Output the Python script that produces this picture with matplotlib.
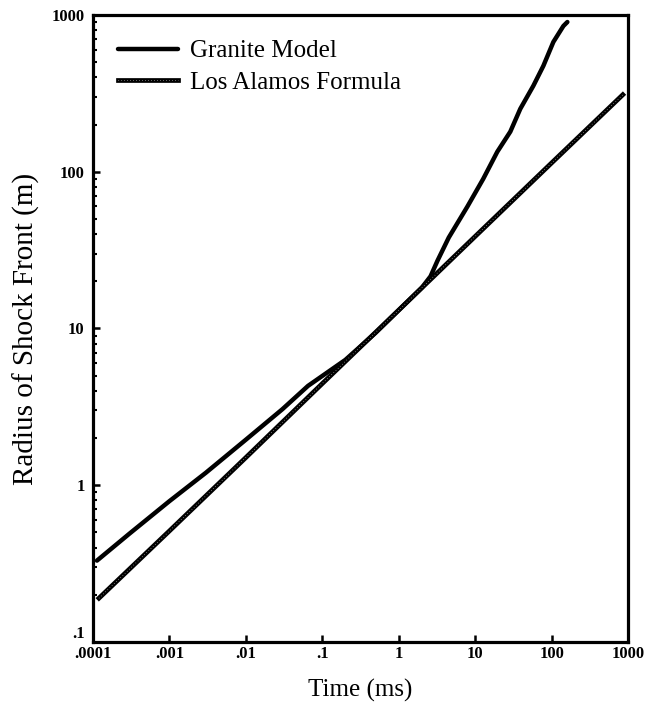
import matplotlib.pyplot as plt
import matplotlib.transforms as mtransforms
from matplotlib.ticker import FixedLocator, LogLocator, NullFormatter

# Granite model
granite_t = [1.13e-4, 3e-4, 1e-3, 3e-3, 1e-2, 3e-2, 0.065, 0.2, 0.5, 1.0, 2.0,
             2.6, 3.2, 4.5, 7.9, 12.7, 19.4, 28.7, 38.8, 57.4, 77.6, 105, 142, 160]
granite_r = [0.33, 0.49, 0.79, 1.2, 1.95, 3.05, 4.3, 6.3, 9.4, 13.1, 18.2,
             21.5, 27, 38, 60, 90, 134, 180, 252, 353, 473, 673, 851, 902]

# Los Alamos formula
alamos_t = [1.2e-4, 1e-3, 1e-2, 0.1, 1.0, 10, 100, 850]
alamos_r = [0.19, 0.51, 1.5, 4.45, 13.1, 38.7, 114, 310]

x_ticks = [1e-4, 1e-3, 1e-2, 1e-1, 1, 10, 100, 1000]
x_labels = ['.0001', '.001', '.01', '.1', '1', '10', '100', '1000']
y_ticks = [0.1, 1, 10, 100, 1000]
y_labels = ['.1', '1', '10', '100', '1000']

plt.rcParams['font.family'] = ['Liberation Serif', 'DejaVu Serif']

fig = plt.figure(figsize=(6.45, 7.14), dpi=100)
ax = fig.add_axes([0.144, 0.101, 0.830, 0.878])

g_line, = ax.plot(granite_t, granite_r, color='black', lw=3.2, solid_capstyle='round')
a_base, = ax.plot(alamos_t, alamos_r, color='black', lw=3.4)
a_dots, = ax.plot(alamos_t, alamos_r, color='white', lw=0.5, ls=(0, (0.8, 3.5)))

ax.set_xscale('log')
ax.set_yscale('log')
ax.set_xlim(1e-4, 1000)
ax.set_ylim(0.1, 1000)

ax.xaxis.set_major_locator(FixedLocator(x_ticks))
ax.set_xticklabels(x_labels)
ax.yaxis.set_major_locator(FixedLocator(y_ticks))
ax.set_yticklabels(y_labels)
ax.xaxis.set_minor_formatter(NullFormatter())
ax.yaxis.set_minor_locator(LogLocator(base=10, subs=range(2, 10)))
ax.yaxis.set_minor_formatter(NullFormatter())
ax.xaxis.set_minor_locator(LogLocator(base=10, subs=[]))

ax.tick_params(which='major', direction='in', length=5, width=1.8, labelsize=12)
ax.tick_params(axis='x', which='major', pad=3)
ax.tick_params(axis='y', which='major', pad=6)
ax.tick_params(which='minor', direction='in', length=3, width=1.5)
for lab in ax.get_xticklabels() + ax.get_yticklabels():
    lab.set_fontweight('bold')

# lift the ".1" label a little so it clears ".0001"
ylab0 = ax.get_yticklabels()[0]
ylab0.set_transform(ylab0.get_transform() +
                    mtransforms.ScaledTranslation(0, 7 / 72, fig.dpi_scale_trans))

for s in ax.spines.values():
    s.set_linewidth(2.3)

ax.set_xlabel('Time (ms)', fontsize=18, labelpad=12)
ax.set_ylabel('Radius of Shock Front (m)', fontsize=21, labelpad=8)

ax.legend([g_line, (a_base, a_dots)], ['Granite Model', 'Los Alamos Formula'],
          loc='upper left', frameon=False, fontsize=18, handlelength=2.4,
          handletextpad=0.5, labelspacing=0.35, borderaxespad=0.6)

fig.savefig('out.png', dpi=100)
